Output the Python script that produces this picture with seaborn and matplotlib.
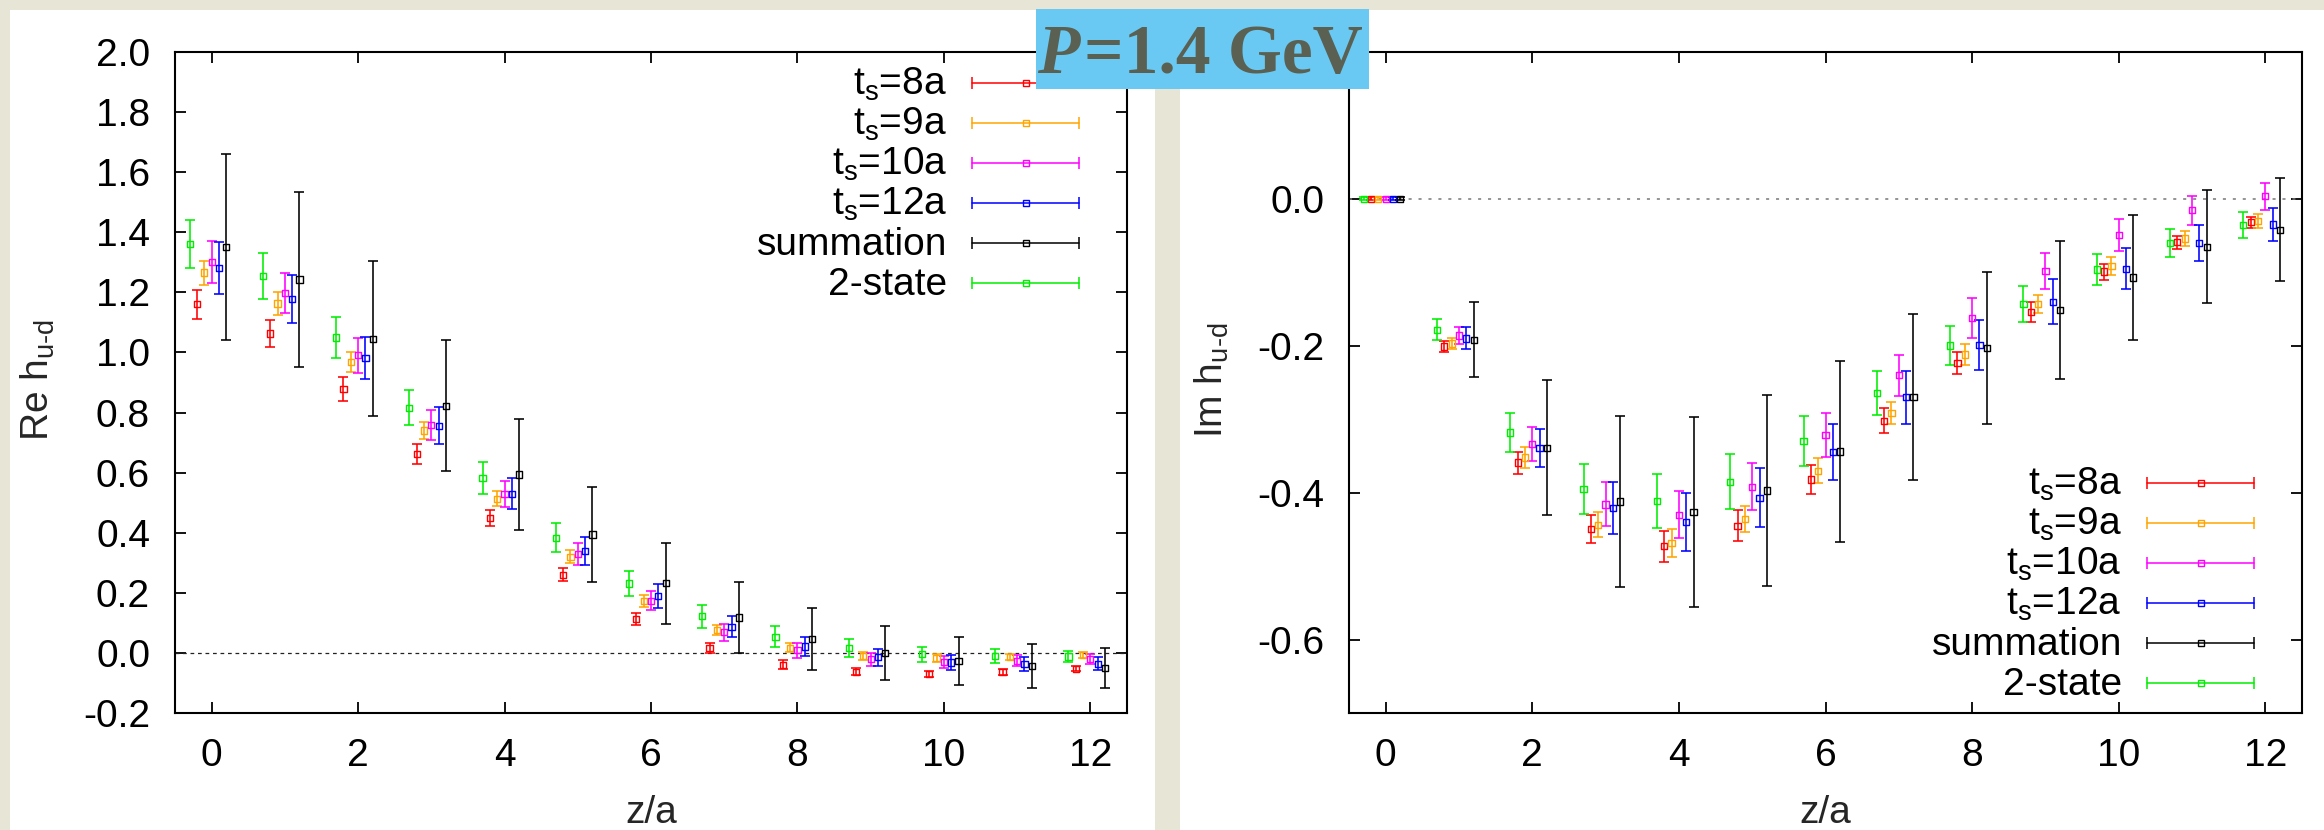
import numpy as np
import pandas as pd
import matplotlib
matplotlib.use("Agg")
import matplotlib.pyplot as plt
import seaborn as sns
from matplotlib.patches import Rectangle

# ---------------- data ----------------
z_sep = list(range(13))

series_names = ["t8a", "t9a", "t10a", "t12a", "summation", "2-state"]
series_labels = [r"t$_{\mathrm{s}}$=8a", r"t$_{\mathrm{s}}$=9a", r"t$_{\mathrm{s}}$=10a",
                 r"t$_{\mathrm{s}}$=12a", "summation", "2-state"]
series_colors = ["#ff0000", "#ffa500", "#ff00ff", "#0000ff", "#000000", "#00ee00"]
series_shift = [-0.2, -0.1, 0.0, 0.1, 0.2, -0.3]

# Re h_{u-d}
re_8a = [1.161, 1.063, 0.879, 0.663, 0.448, 0.260, 0.114, 0.017, -0.039, -0.063, -0.069, -0.063, -0.053]
re_8a_err = [0.048, 0.045, 0.039, 0.033, 0.027, 0.022, 0.020, 0.016, 0.014, 0.012, 0.010, 0.009, 0.008]
re_9a = [1.266, 1.163, 0.968, 0.740, 0.513, 0.320, 0.173, 0.076, 0.017, -0.009, -0.017, -0.013, -0.007]
re_9a_err = [0.040, 0.037, 0.033, 0.028, 0.025, 0.022, 0.019, 0.016, 0.015, 0.013, 0.012, 0.011, 0.009]
re_10a = [1.302, 1.197, 0.991, 0.759, 0.529, 0.330, 0.174, 0.069, 0.009, -0.021, -0.029, -0.026, -0.020]
re_10a_err = [0.070, 0.066, 0.058, 0.050, 0.043, 0.036, 0.032, 0.028, 0.025, 0.022, 0.020, 0.019, 0.017]
re_12a = [1.280, 1.177, 0.981, 0.756, 0.530, 0.339, 0.189, 0.087, 0.021, -0.014, -0.032, -0.037, -0.036]
re_12a_err = [0.086, 0.080, 0.070, 0.062, 0.052, 0.046, 0.040, 0.035, 0.031, 0.028, 0.025, 0.023, 0.022]
re_sum = [1.350, 1.243, 1.046, 0.822, 0.594, 0.394, 0.232, 0.118, 0.046, 0.001, -0.027, -0.044, -0.051]
re_sum_err = [0.310, 0.290, 0.257, 0.218, 0.186, 0.157, 0.135, 0.118, 0.103, 0.090, 0.080, 0.072, 0.066]
re_2st = [1.361, 1.254, 1.050, 0.816, 0.583, 0.383, 0.231, 0.122, 0.054, 0.016, -0.004, -0.011, -0.012]
re_2st_err = [0.080, 0.076, 0.068, 0.058, 0.054, 0.048, 0.043, 0.039, 0.034, 0.029, 0.025, 0.023, 0.018]

# Im h_{u-d}
im_8a = [0.0, -0.201, -0.359, -0.449, -0.473, -0.445, -0.382, -0.302, -0.223, -0.154, -0.099, -0.059, -0.032]
im_8a_err = [0.002, 0.008, 0.015, 0.019, 0.021, 0.021, 0.020, 0.017, 0.015, 0.013, 0.011, 0.009, 0.0075]
im_9a = [0.0, -0.197, -0.352, -0.444, -0.469, -0.436, -0.370, -0.291, -0.212, -0.143, -0.091, -0.054, -0.030]
im_9a_err = [0.002, 0.0075, 0.014, 0.017, 0.019, 0.018, 0.017, 0.015, 0.014, 0.0125, 0.012, 0.0105, 0.0095]
im_10a = [0.0, -0.186, -0.334, -0.416, -0.430, -0.392, -0.322, -0.240, -0.162, -0.098, -0.049, -0.0155, 0.0036]
im_10a_err = [0.002, 0.012, 0.023, 0.030, 0.032, 0.032, 0.030, 0.028, 0.027, 0.0245, 0.022, 0.020, 0.0185]
im_12a = [0.0, -0.190, -0.339, -0.421, -0.440, -0.407, -0.345, -0.270, -0.199, -0.140, -0.095, -0.060, -0.035]
im_12a_err = [0.002, 0.015, 0.026, 0.035, 0.039, 0.040, 0.038, 0.036, 0.034, 0.031, 0.028, 0.025, 0.0225]
im_sum = [0.0, -0.192, -0.339, -0.412, -0.426, -0.397, -0.344, -0.270, -0.203, -0.151, -0.107, -0.065, -0.042]
im_sum_err = [0.002, 0.051, 0.092, 0.117, 0.129, 0.130, 0.123, 0.113, 0.103, 0.094, 0.085, 0.077, 0.070]
im_2st = [0.0, -0.178, -0.318, -0.395, -0.411, -0.385, -0.330, -0.264, -0.1995, -0.143, -0.096, -0.060, -0.036]
im_2st_err = [0.002, 0.014, 0.026, 0.034, 0.037, 0.037, 0.034, 0.030, 0.026, 0.024, 0.021, 0.019, 0.0175]

re_vals = [re_8a, re_9a, re_10a, re_12a, re_sum, re_2st]
re_errs = [re_8a_err, re_9a_err, re_10a_err, re_12a_err, re_sum_err, re_2st_err]
im_vals = [im_8a, im_9a, im_10a, im_12a, im_sum, im_2st]
im_errs = [im_8a_err, im_9a_err, im_10a_err, im_12a_err, im_sum_err, im_2st_err]

re_yticks = [-0.2, 0.0, 0.2, 0.4, 0.6, 0.8, 1.0, 1.2, 1.4, 1.6, 1.8, 2.0]
re_yticklabels = ["-0.2", "0.0", "0.2", "0.4", "0.6", "0.8", "1.0", "1.2", "1.4", "1.6", "1.8", "2.0"]
im_yticks = [-0.6, -0.4, -0.2, 0.0, 0.2]
im_yticklabels = ["-0.6", "-0.4", "-0.2", "0.0", ""]   # 0.2 label is hidden under the title box
x_ticks = [0, 2, 4, 6, 8, 10, 12]
title_text = "=1.4 GeV"

# ---------------- style ----------------
sns.set_theme(style="ticks")
plt.rcParams["font.family"] = ["Liberation Sans", "DejaVu Sans"]
plt.rcParams["mathtext.fontset"] = "custom"
plt.rcParams["mathtext.rm"] = "Liberation Sans"
plt.rcParams["mathtext.it"] = "Liberation Sans:italic"
plt.rcParams["axes.unicode_minus"] = False

W, H = 2324, 830
FS = 28
fig = plt.figure(figsize=(W / 100, H / 100), dpi=100)
fig.patch.set_facecolor("#e7e5d6")

def fr(x0, y0, x1, y1):
    return [x0 / W, 1 - y1 / H, (x1 - x0) / W, (y1 - y0) / H]

# white panels
for (x0, x1) in [(10, 1155), (1180, 2324)]:
    r = fr(x0, 10, x1, 830)
    fig.patches.append(Rectangle((r[0], r[1]), r[2], r[3], transform=fig.transFigure,
                                 facecolor="white", edgecolor="none", zorder=-5))

axL = fig.add_axes(fr(175, 52, 1127, 713))
axR = fig.add_axes(fr(1349, 52, 2302, 713))

def draw_panel(ax, vals, errs, ylim, yticks, yticklabels, zero_style, rows):
    ax.set_facecolor("white")
    ax.axhline(0.0, **zero_style, zorder=1)
    for name, col, sh, v, e in zip(series_names, series_colors, series_shift, vals, errs):
        df = pd.DataFrame({"z": np.array(z_sep) + sh, "val": v, "err": e})
        ax.errorbar(df["z"], df["val"], yerr=df["err"], fmt="none", ecolor=col,
                    elinewidth=1.15, capsize=3.8, capthick=1.15, zorder=2)
        sns.scatterplot(data=df, x="z", y="val", ax=ax, marker="s", s=20, color=col,
                        facecolor="none", edgecolor=col, linewidth=1.0, legend=False, zorder=3)
    ax.set_xlim(-0.5, 12.5)
    ax.set_ylim(*ylim)
    ax.set_xticks(x_ticks)
    ax.set_xticklabels([str(t) for t in x_ticks])
    ax.set_yticks(yticks)
    ax.set_yticklabels(yticklabels)
    ax.set_xlabel("")
    ax.set_ylabel("")
    for s in ax.spines.values():
        s.set_visible(True)
        s.set_linewidth(1.5)
        s.set_color("black")
    ax.tick_params(direction="in", length=8, width=1.3, colors="black", labelsize=FS,
                   pad=18, top=True, right=True, labeltop=False, labelright=False)
    # legend (manual, gnuplot style)
    for lab, col, ry in zip(series_labels, series_colors, rows):
        yf = (713 - ry) / 661
        ax.plot([0.837, 0.950], [yf, yf], transform=ax.transAxes, color=col, lw=1.1,
                clip_on=False, zorder=4)
        ax.plot([0.837, 0.950], [yf, yf], transform=ax.transAxes, ls="none", marker="|",
                ms=8, mew=1.1, color=col, clip_on=False, zorder=4)
        ax.plot([0.8935], [yf], transform=ax.transAxes, ls="none", marker="s", ms=3.8,
                mfc="none", mec=col, mew=1.0, clip_on=False, zorder=4)
        ax.text(0.811, yf - 12 / 661, lab, transform=ax.transAxes, ha="right",
                va="baseline", fontsize=FS, color="black")

draw_panel(axL, re_vals, re_errs, (-0.2, 2.0), re_yticks, re_yticklabels,
           dict(color="#222222", lw=0.9, linestyle=(0, (3, 3))),
           [83, 123, 163, 203, 243, 283])
draw_panel(axR, im_vals, im_errs, (-0.7, 0.2), im_yticks, im_yticklabels,
           dict(color="#777777", lw=1.1, linestyle=(0, (2, 4.5))),
           [483, 523, 563, 603, 643, 683])

# axis labels
fig.text(651 / W, 1 - 813 / H, "z/a", ha="center", va="center", fontsize=FS)
fig.text(1825 / W, 1 - 813 / H, "z/a", ha="center", va="center", fontsize=FS)
fig.text(38 / W, 1 - 380 / H, r"Re h$_{\mathrm{u\text{-}d}}$", rotation=90,
         ha="center", va="center", fontsize=FS)
fig.text(1212 / W, 1 - 380 / H, r"Im h$_{\mathrm{u\text{-}d}}$", rotation=90,
         ha="center", va="center", fontsize=FS)

# title box
r = fr(1036, 9, 1369, 89)
fig.patches.append(Rectangle((r[0], r[1]), r[2], r[3], transform=fig.transFigure,
                             facecolor="#6ac9f2", edgecolor="none", zorder=20))
tcol = "#5a6152"
fig.text(1037 / W, 1 - 73 / H, "P", fontsize=50, fontweight="bold", fontstyle="italic",
         family=["Liberation Serif", "DejaVu Serif"], color=tcol, ha="left",
         va="baseline", zorder=21)
fig.text(1084 / W, 1 - 73 / H, title_text, fontsize=50, fontweight="bold",
         family=["Liberation Serif", "DejaVu Serif"], color=tcol, ha="left",
         va="baseline", zorder=21)

fig.savefig("out.png", dpi=100, facecolor=fig.get_facecolor())
